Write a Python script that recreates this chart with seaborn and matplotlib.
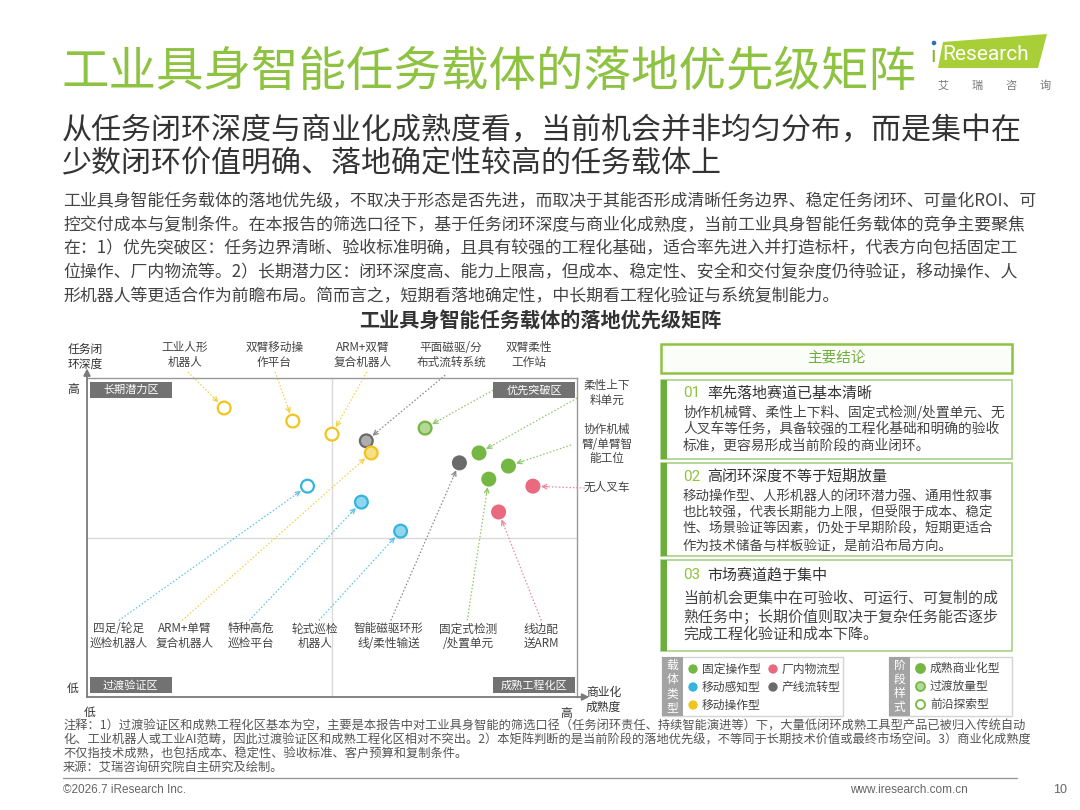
import numpy as np
import pandas as pd
import matplotlib.pyplot as plt
import matplotlib.patches as mpatches
from matplotlib.colors import to_rgb
import seaborn as sns

sns.set_theme(style='white')
plt.rcParams['font.family'] = ['Noto Sans CJK SC', 'DejaVu Sans']

# ---------------- data ----------------
names = ['工业人形机器人', '双臂移动操作平台', 'ARM+双臂复合机器人', '平面磁驱/分布式流转系统',
         'ARM+单臂复合机器人', '双臂柔性工作站', '四足/轮足巡检机器人', '特种高危巡检平台',
         '轮式巡检机器人', '智能磁驱环形线/柔性输送', '柔性上下料单元', '协作机械臂/单臂智能工位',
         '固定式检测/处置单元', '无人叉车', '线边配送ARM']
label_text = ['工业人形\n机器人', '双臂移动操\n作平台', 'ARM+双臂\n复合机器人', '平面磁驱/分\n布式流转系统',
              'ARM+单臂\n复合机器人', '双臂柔性\n工作站', '四足/轮足\n巡检机器人', '特种高危\n巡检平台',
              '轮式巡检\n机器人', '智能磁驱环形\n线/柔性输送', '柔性上下\n料单元', '协作机械\n臂/单臂智\n能工位',
              '固定式检测\n/处置单元', '无人叉车', '线边配\n送ARM']
maturity = [2.8, 4.2, 5.0, 5.7, 5.8, 6.9, 4.5, 5.6, 6.4, 7.6, 8.0, 8.6, 8.2, 9.1, 8.4]
depth = [9.06, 8.65, 8.24, 8.03, 7.65, 8.43, 6.61, 6.11, 5.2, 7.34, 7.65, 7.24, 6.83, 6.61, 5.8]
carrier = ['移动操作型', '移动操作型', '移动操作型', '产线流转型', '移动操作型', '固定操作型',
           '移动感知型', '移动感知型', '移动感知型', '产线流转型', '固定操作型', '固定操作型',
           '固定操作型', '厂内物流型', '厂内物流型']
stage = ['前沿探索型', '前沿探索型', '前沿探索型', '过渡放量型', '过渡放量型', '过渡放量型',
         '前沿探索型', '过渡放量型', '过渡放量型', '成熟商业化型', '成熟商业化型', '成熟商业化型',
         '成熟商业化型', '成熟商业化型', '成熟商业化型']

carrier_types = ['固定操作型', '厂内物流型', '移动感知型', '产线流转型', '移动操作型']
carrier_colors = ['#74B843', '#E9697E', '#35B5DE', '#6A6A6A', '#F0C51E']
stage_types = ['成熟商业化型', '过渡放量型', '前沿探索型']
quadrants = ['长期潜力区', '优先突破区', '过渡验证区', '成熟工程化区']

# label layout (data units of the matrix)
label_pos = [(2.0, 10.72), (3.82, 10.72), (5.63, 10.72), (7.43, 10.72), (2.0, 1.91), (9.02, 10.72),
             (0.65, 1.91), (3.35, 1.91), (4.65, 1.91), (6.16, 1.91), (10.61, 9.53), (10.61, 7.93),
             (7.78, 1.91), (10.61, 6.58), (9.27, 1.91)]
arrow_from = [(2.06, 10.19), (3.84, 10.19), (5.71, 10.19), (7.31, 10.09), (1.94, 2.4), (8.29, 9.62),
              (0.65, 2.4), (3.31, 2.4), (4.73, 2.4), (6.2, 2.4), (10.0, 9.37), (9.88, 7.9),
              (7.76, 2.4), (10.16, 6.55), (9.27, 2.4)]

green = '#8DC340'
dark_green = '#6BAE3C'

df = pd.DataFrame({'name': names, 'maturity': maturity, 'depth': depth,
                   'carrier': carrier, 'stage': stage})
pal = dict(zip(carrier_types, carrier_colors))


def lighten(c, amt):
    r = np.array(to_rgb(c))
    return tuple(r + (1 - r) * amt)


fig = plt.figure(figsize=(10.8, 8.1), dpi=100)

# page layer in pixel coordinates
page = fig.add_axes([0, 0, 1, 1])
page.set_xlim(0, 1080)
page.set_ylim(810, 0)
page.axis('off')

# ---------------- header ----------------
page.text(62, 72, '工业具身智能任务载体的落地优先级矩阵', fontsize=34.2, color=green, va='center')
page.add_patch(mpatches.Polygon([(943, 42), (1047, 34), (1038, 68), (938, 68)], closed=True,
                                fc='#A9CF38', ec='none'))
page.text(930, 57, 'ı', fontsize=16, color='#86B52E', family='Roboto', va='center')
page.add_patch(mpatches.Circle((934, 43), 2.3, fc='#2C6FB3', ec='none'))
page.text(942, 54, 'Research', fontsize=15, color='white', family='Roboto', va='center')
for i, ch in enumerate('艾瑞咨询'):
    page.text(943 + i * 34, 86, ch, fontsize=8, color='#777', ha='center', va='center')

page.text(62, 130, '从任务闭环深度与商业化成熟度看，当前机会并非均匀分布，而是集中在',
          fontsize=21.6, color='#333', va='center')
page.text(62, 164, '少数闭环价值明确、落地确定性较高的任务载体上', fontsize=21.6, color='#333', va='center')

para = ['工业具身智能任务载体的落地优先级，不取决于形态是否先进，而取决于其能否形成清晰任务边界、稳定任务闭环、可量化ROI、可',
        '控交付成本与复制条件。在本报告的筛选口径下，基于任务闭环深度与商业化成熟度，当前工业具身智能任务载体的竞争主要聚焦',
        '在：1）优先突破区：任务边界清晰、验收标准明确，且具有较强的工程化基础，适合率先进入并打造标杆，代表方向包括固定工',
        '位操作、厂内物流等。2）长期潜力区：闭环深度高、能力上限高，但成本、稳定性、安全和交付复杂度仍待验证，移动操作、人',
        '形机器人等更适合作为前瞻布局。简而言之，短期看落地确定性，中长期看工程化验证与系统复制能力。']
for i, line in enumerate(para):
    page.text(63, 201 + i * 23.8, line, fontsize=12.2, color='#444', va='center')

page.text(540, 321, '工业具身智能任务载体的落地优先级矩阵', fontsize=14.5, color='#333',
          fontweight='bold', ha='center', va='center')

# ---------------- matrix ----------------
ax = fig.add_axes([87 / 1080, 1 - 697 / 810, 490 / 1080, 319 / 810])
ax.set_xlim(0, 10)
ax.set_ylim(0, 10)
ax.axvline(5, color='#DADADA', lw=1, zorder=1)
ax.axhline(5, color='#DADADA', lw=1, zorder=1)

sns.scatterplot(data=df, x='maturity', y='depth', hue='carrier', palette=pal, s=85,
                linewidth=1.6, legend=False, ax=ax, zorder=5)
edge = [pal[c] for c in df['carrier']]
fill_amt = {'成熟商业化型': 0.0, '过渡放量型': 0.45, '前沿探索型': 1.0}
face = [lighten(pal[c], fill_amt[s]) for c, s in zip(df['carrier'], df['stage'])]
coll = ax.collections[0]
coll.set_edgecolor(edge)
coll.set_facecolor(face)

ax.set_xticks([])
ax.set_yticks([])
ax.set_xlabel('')
ax.set_ylabel('')
for side in ['top', 'right']:
    ax.spines[side].set_color('#9A9A9A')
    ax.spines[side].set_linewidth(1)
for side in ['left', 'bottom']:
    ax.spines[side].set_visible(False)
ax.annotate('', xy=(0, 1.03), xytext=(0, 0), xycoords='axes fraction',
            arrowprops=dict(arrowstyle='-|>', color='#7A7A7A', lw=1.3, mutation_scale=10, shrinkA=0, shrinkB=0),
            annotation_clip=False)
ax.annotate('', xy=(1.025, 0), xytext=(0, 0), xycoords='axes fraction',
            arrowprops=dict(arrowstyle='-|>', color='#7A7A7A', lw=1.3, mutation_scale=10, shrinkA=0, shrinkB=0),
            annotation_clip=False)

# quadrant tags
quad_box = [(0.006, 0.937), (0.829, 0.937), (0.006, 0.012), (0.829, 0.012)]
for q, (qx, qy) in zip(quadrants, quad_box):
    ax.add_patch(mpatches.Rectangle((qx, qy), 0.167, 0.05, transform=ax.transAxes,
                                    fc='#727272', ec='none', zorder=3, clip_on=False))
    ax.text(qx + 0.0835, qy + 0.025, q, transform=ax.transAxes, fontsize=8, color='white',
            ha='center', va='center', zorder=4)

# labels and dotted arrows
fig.canvas.draw()
to_px = ax.transData
inv = ax.transData.inverted()
for i in range(len(df)):
    lx, ly = label_pos[i]
    ax.text(lx, ly, label_text[i], fontsize=8.4, color='#444', ha='center', va='center',
            linespacing=1.15, clip_on=False)
    p0 = to_px.transform(arrow_from[i])
    p1 = to_px.transform((df['maturity'][i], df['depth'][i]))
    d = p1 - p0
    u = d / np.hypot(*d)
    tip = p1 - u * 8
    neck = tip - u * 7
    c = lighten(edge[i], 0.2)
    a, b, t = inv.transform(p0), inv.transform(neck), inv.transform(tip)
    ax.plot([a[0], b[0]], [a[1], b[1]], color=c, lw=0.9, ls=(0, (1.2, 1.6)), clip_on=False, zorder=2)
    ax.annotate('', xy=t, xytext=b, arrowprops=dict(arrowstyle='->', color=c, lw=0.9,
                                                    mutation_scale=8, shrinkA=0, shrinkB=0),
                annotation_clip=False, zorder=2)

# axis words
page.text(68, 357, '任务闭\n环深度', fontsize=8.5, color='#333', va='center', linespacing=1.2)
page.text(73, 389, '高', fontsize=8.5, color='#333', ha='center', va='center')
page.text(73, 688, '低', fontsize=8.5, color='#333', ha='center', va='center')
page.text(90, 712, '低', fontsize=8.5, color='#333', ha='center', va='center')
page.text(566, 713, '高', fontsize=8.5, color='#333', ha='center', va='center')
page.text(586, 700, '商业化\n成熟度', fontsize=8.5, color='#333', va='center', linespacing=1.2)

# ---------------- right panel ----------------
def rect(x0, y0, x1, y1, **kw):
    page.add_patch(mpatches.Rectangle((x0, y0), x1 - x0, y1 - y0, **kw))


rect(661, 344, 1012, 373, fc='#FBFDF8', ec=green, lw=1.8)
page.text(836, 358, '主要结论', fontsize=10.5, color='#6FAE3A', ha='center', va='center')

blocks = [
    ('01', '率先落地赛道已基本清晰', 380, 459, 393,
     ['协作机械臂、柔性上下料、固定式检测/处置单元、无',
      '人叉车等任务，具备较强的工程化基础和明确的验收',
      '标准，更容易形成当前阶段的商业闭环。'], 412, 16.6, 9.9),
    ('02', '高闭环深度不等于短期放量', 463, 556, 477,
     ['移动操作型、人形机器人的闭环潜力强、通用性叙事',
      '也比较强，代表长期能力上限，但受限于成本、稳定',
      '性、场景验证等因素，仍处于早期阶段，短期更适合',
      '作为技术储备与样板验证，是前沿布局方向。'], 496, 16.4, 9.7),
    ('03', '市场赛道趋于集中', 560, 651, 575,
     ['当前机会更集中在可验收、可运行、可复制的成',
      '熟任务中；长期价值则取决于复杂任务能否逐步',
      '完成工程化验证和成本下降。'], 599, 17.5, 10.8),
]
for num, title, y0, y1, ty, body, by, step, fs in blocks:
    rect(661, y0, 1012, y1, fc='white', ec='#AFD591', lw=1.3)
    rect(661, y0, 667, y1, fc=dark_green, ec='none')
    page.text(683, ty, num, fontsize=11, color=green, va='center', family='Roboto')
    page.text(707, ty, title, fontsize=10.8, color='#333', va='center')
    for j, line in enumerate(body):
        page.text(683, by + j * step, line, fontsize=fs, color='#444', va='center')

# legend: carrier type
rect(662, 657, 843, 716, fc='white', ec='#D4D4D4', lw=1)
rect(662, 657, 683, 716, fc='#A3A3A3', ec='none')
for j, ch in enumerate('载体类型'):
    page.text(672.5, 665 + j * 14.3, ch, fontsize=8.5, color='white', ha='center', va='center')
leg_xy = [(693, 669), (773, 669), (693, 687), (773, 687), (693, 705)]
for (lx, ly), ct in zip(leg_xy, carrier_types):
    page.scatter(lx, ly, s=45, color=pal[ct], edgecolor='none')
    page.text(lx + 9, ly, ct, fontsize=8.5, color='#444', va='center')

# legend: stage style
rect(889, 657, 1012, 716, fc='white', ec='#D4D4D4', lw=1)
rect(889, 657, 910, 716, fc='#A3A3A3', ec='none')
for j, ch in enumerate('阶段样式'):
    page.text(899.5, 665 + j * 14.3, ch, fontsize=8.5, color='white', ha='center', va='center')
for j, st in enumerate(stage_types):
    page.scatter(920, 668 + j * 18, s=42, facecolor=lighten(carrier_colors[0], fill_amt[st]),
                 edgecolor=carrier_colors[0], linewidth=1.3)
    page.text(930, 668 + j * 18, st, fontsize=8.5, color='#444', va='center')

# ---------------- notes / footer ----------------
notes = ['注释：1）过渡验证区和成熟工程化区基本为空，主要是本报告中对工业具身智能的筛选口径（任务闭环责任、持续智能演进等）下，大量低闭环成熟工具型产品已被归入传统自动',
         '化、工业机器人或工业AI范畴，因此过渡验证区和成熟工程化区相对不突出。2）本矩阵判断的是当前阶段的落地优先级，不等同于长期技术价值或最终市场空间。3）商业化成熟度',
         '不仅指技术成熟，也包括成本、稳定性、验收标准、客户预算和复制条件。',
         '来源：艾瑞咨询研究院自主研究及绘制。']
for i, line in enumerate(notes):
    page.text(63, 726 + i * 13.8, line, fontsize=8.8, color='#555', va='center')
page.plot([63, 1017], [778, 778], color='#9A9A9A', lw=1)
page.text(63, 790, '©2026.7 iResearch Inc.', fontsize=8.5, color='#666', va='center', family='Liberation Sans')
page.text(968, 790, 'www.iresearch.com.cn', fontsize=8.5, color='#666', ha='right', va='center',
          family='Liberation Sans')
page.text(1060, 790, '10', fontsize=9, color='#666', ha='center', va='center', family='Liberation Sans')

fig.savefig('out.png', dpi=100, facecolor='white')
